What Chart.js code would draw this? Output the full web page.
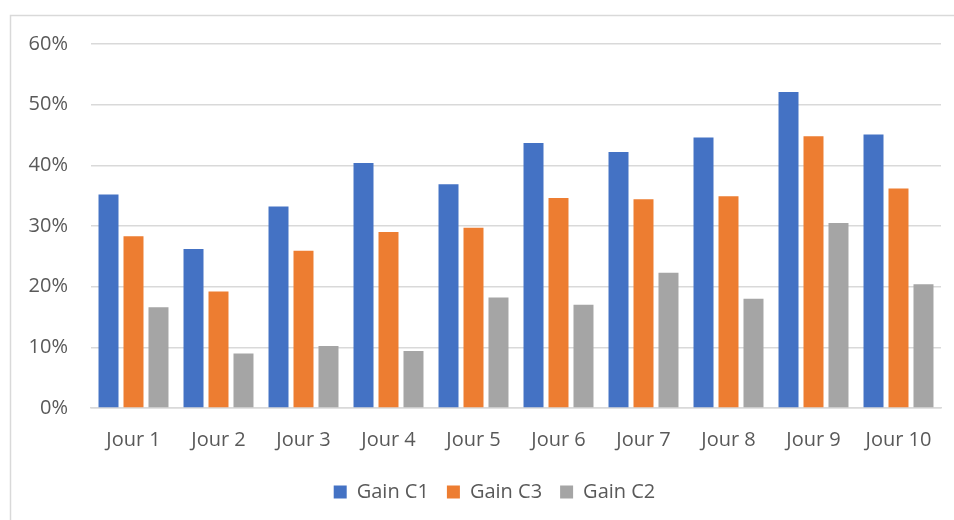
<!DOCTYPE html>
<html>
<head>
<meta charset="utf-8">
<script src="https://cdn.jsdelivr.net/npm/chart.js@4/dist/chart.umd.min.js"></script>
<style>
    html, body { margin: 0; padding: 0; background: #fff; }
    #wrap { width: 954px; height: 520px; position: relative; }
</style>
</head>
<body>
<div id="wrap"><canvas id="chart" width="954" height="520"></canvas></div>
<script>
    var categories = ['Jour 1', 'Jour 2', 'Jour 3', 'Jour 4', 'Jour 5', 'Jour 6', 'Jour 7', 'Jour 8', 'Jour 9', 'Jour 10'];
    var gainC1 = [0.352, 0.262, 0.332, 0.404, 0.369, 0.437, 0.422, 0.446, 0.521, 0.451];
    var gainC3 = [0.283, 0.192, 0.259, 0.290, 0.297, 0.346, 0.344, 0.349, 0.448, 0.362];
    var gainC2 = [0.166, 0.090, 0.102, 0.094, 0.182, 0.170, 0.223, 0.180, 0.305, 0.204];
    var yTicks = [0, 0.1, 0.2, 0.3, 0.4, 0.5, 0.6];

    var fontFamily = '"Open Sans", "Noto Sans", sans-serif';
    var textColor = '#595959';

    // outer frame of the chart object (runs off the right / bottom edge)
    var framePlugin = {
        id: 'frame',
        beforeDraw: function (chart) {
            var ctx = chart.ctx;
            ctx.save();
            ctx.strokeStyle = '#d9d9d9';
            ctx.lineWidth = 1.5;
            ctx.strokeRect(10.5, 15.5, 1000, 600);
            ctx.restore();
        }
    };

    // nudge the legend up a bit and centre it under the plot like excel does
    var legendShift = {
        id: 'legendShift',
        afterLayout: function (chart) {
            var lg = chart.legend;
            lg.top -= 8;
            lg.bottom -= 8;
            lg.left += 24;
            lg.right += 24;
        }
    };

    var makeSet = function (label, values, color) {
        return {
            label: label,
            data: values,
            backgroundColor: color,
            borderWidth: 0,
            categoryPercentage: 0.882,
            barPercentage: 0.8
        };
    };

    new Chart(document.getElementById('chart'), {
        type: 'bar',
        data: {
            labels: categories,
            datasets: [
                makeSet('Gain C1', gainC1, '#4472c4'),
                makeSet('Gain C3', gainC3, '#ed7d31'),
                makeSet('Gain C2', gainC2, '#a5a5a5')
            ]
        },
        options: {
            responsive: false,
            animation: false,
            layout: {
                padding: { top: 44, right: 13, bottom: 0, left: 0 }
            },
            plugins: {
                tooltip: { enabled: false },
                legend: {
                    position: 'bottom',
                    labels: {
                        boxWidth: 13,
                        boxHeight: 13,
                        padding: 18,
                        color: textColor,
                        font: { family: fontFamily, size: 20 }
                    }
                }
            },
            scales: {
                x: {
                    grid: { display: false, drawTicks: false },
                    border: { display: true, color: '#d9d9d9', width: 1.5 },
                    ticks: {
                        color: textColor,
                        padding: 20,
                        maxRotation: 0,
                        font: { family: fontFamily, size: 20 }
                    }
                },
                y: {
                    min: 0,
                    max: 0.6,
                    afterFit: function (scale) { scale.width = 91; },
                    afterBuildTicks: function (scale) {
                        scale.ticks = yTicks.map(function (v) { return { value: v }; });
                    },
                    grid: { color: '#d9d9d9', lineWidth: 1.5, drawTicks: false },
                    border: { display: false },
                    ticks: {
                        color: textColor,
                        padding: 23,
                        font: { family: fontFamily, size: 20 },
                        callback: function (v) { return Math.round(v * 100) + '%'; }
                    }
                }
            }
        },
        plugins: [framePlugin, legendShift]
    });
</script>
</body>
</html>
